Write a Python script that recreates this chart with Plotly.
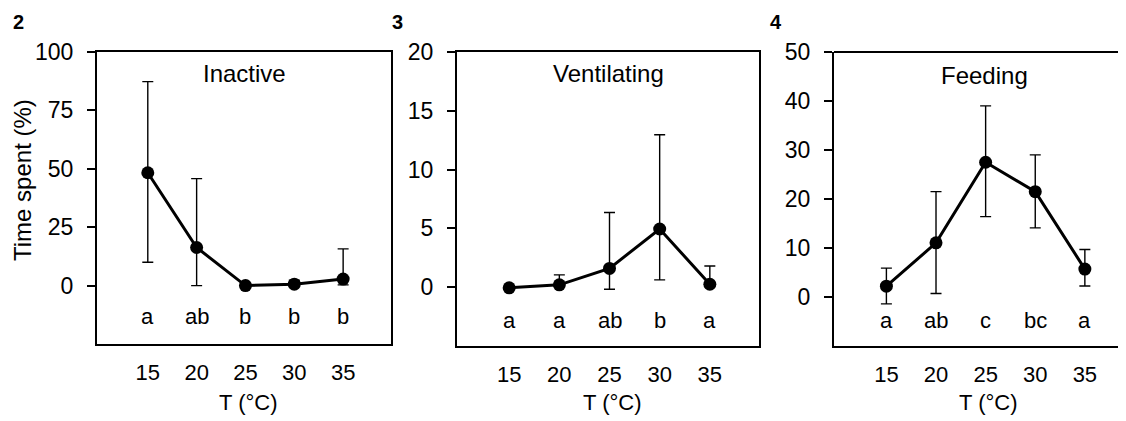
import plotly.graph_objects as go

temps = [15, 20, 25, 30, 35]
tick_labels = ["15", "20", "25", "30", "35"]

# Panel 2: Inactive
inactive_mean = [48.3, 16.3, 0.0, 0.6, 2.8]
inactive_hi = [87.3, 45.8, 0.2, 2.3, 15.7]
inactive_lo = [10.0, 0.0, -0.2, -0.3, 0.3]
inactive_letters = ["a", "ab", "b", "b", "b"]

# Panel 3: Ventilating
vent_mean = [-0.05, 0.2, 1.6, 4.95, 0.25]
vent_hi = [0.0, 1.05, 6.35, 12.96, 1.8]
vent_lo = [-0.1, 0.1, -0.17, 0.62, 0.2]
vent_letters = ["a", "a", "ab", "b", "a"]

# Panel 4: Feeding
feed_mean = [2.2, 11.05, 27.5, 21.5, 5.7]
feed_hi = [5.9, 21.5, 39.0, 29.0, 9.7]
feed_lo = [-1.4, 0.7, 16.4, 14.1, 2.25]
feed_letters = ["a", "ab", "c", "bc", "a"]

W, H = 1126, 421
OFF = 8  # page body margin in the viewer
FONT = "Liberation Sans, Arial, sans-serif"


def px(x):
    return (x - OFF) / W


def py(y):
    return 1 - (y - OFF) / H


panels = [
    dict(name="Inactive", mean=inactive_mean, hi=inactive_hi, lo=inactive_lo, letters=inactive_letters,
         xdom=(97, 391), ytop=52, ybot=344, yrange=[-25, 100], yticks=[0, 25, 50, 75, 100],
         xrange=[9.8, 39.9], letter_y=-13.4, label="2", label_x=18, mirror=True, title_y=74),
    dict(name="Ventilating", mean=vent_mean, hi=vent_hi, lo=vent_lo, letters=vent_letters,
         xdom=(457, 759), ytop=52, ybot=346, yrange=[-5, 20], yticks=[0, 5, 10, 15, 20],
         xrange=[9.8, 39.9], letter_y=-2.8, label="3", label_x=397, mirror=True, title_y=74),
    dict(name="Feeding", mean=feed_mean, hi=feed_hi, lo=feed_lo, letters=feed_letters,
         xdom=(834, 1132), ytop=52, ybot=346, yrange=[-10, 50], yticks=[0, 10, 20, 30, 40, 50],
         xrange=[9.72, 39.75], letter_y=-4.8, label="4", label_x=776, mirror=False, title_y=76),
]

fig = go.Figure()
annotations = []
layout = {}

for i, p in enumerate(panels):
    k = "" if i == 0 else str(i + 1)
    xa, ya = "x" + k, "y" + k
    plus = [h - m for h, m in zip(p["hi"], p["mean"])]
    minus = [m - l for m, l in zip(p["mean"], p["lo"])]
    fig.add_trace(go.Scatter(
        x=temps, y=p["mean"], xaxis=xa, yaxis=ya, mode="lines+markers",
        line=dict(color="black", width=3),
        marker=dict(color="black", size=13),
        error_y=dict(type="data", symmetric=False, array=plus, arrayminus=minus,
                     color="black", thickness=1.4, width=5.5),
        showlegend=False, cliponaxis=False,
    ))
    x0 = px(p["xdom"][0])
    x1 = min(px(p["xdom"][1]), 1.0)
    y0 = py(p["ybot"])
    y1 = py(p["ytop"])
    layout["xaxis" + k] = dict(
        domain=[x0, x1], range=p["xrange"], anchor=ya, automargin=False,
        showline=True, linecolor="black", linewidth=2, mirror=p["mirror"],
        showgrid=False, zeroline=False, ticks="",
        tickvals=temps, ticktext=tick_labels, ticklabelstandoff=8,
        tickfont=dict(family=FONT, size=22, color="black"),
    )
    layout["yaxis" + k] = dict(
        domain=[y0, y1], range=p["yrange"], anchor=xa, automargin=False,
        showline=True, linecolor="black", linewidth=2, mirror=p["mirror"],
        showgrid=False, zeroline=False, ticks="outside", ticklen=8, tickwidth=2, tickcolor="black",
        tickvals=p["yticks"], ticklabelstandoff=9,
        tickfont=dict(family=FONT, size=23, color="black"),
    )
    if not p["mirror"]:
        fig.add_shape(type="line", xref="x" + k + " domain", yref="y" + k + " domain",
                      x0=0, x1=1, y0=1, y1=1, line=dict(color="black", width=2))
    # panel title
    annotations.append(dict(text=p["name"], x=24.9, xref=xa,
                            y=py(p["title_y"]), yref="paper", xanchor="center", yanchor="middle",
                            showarrow=False, font=dict(family=FONT, size=24, color="black")))
    # significance letters
    for t, lt in zip(temps, p["letters"]):
        annotations.append(dict(text=lt, x=t, y=p["letter_y"], xref=xa, yref=ya, showarrow=False,
                                xanchor="center", yanchor="middle",
                                font=dict(family=FONT, size=22, color="black")))
    # x title
    annotations.append(dict(text="T (°C)", x=25.3, xref=xa, y=py(402), yref="paper",
                            xanchor="center", yanchor="middle",
                            showarrow=False, font=dict(family=FONT, size=22, color="black")))
    # panel label
    annotations.append(dict(text="<b>" + p["label"] + "</b>", x=px(p["label_x"]), xref="paper",
                            y=py(22), yref="paper", showarrow=False, xanchor="center", yanchor="middle",
                            font=dict(family=FONT, size=20, color="black")))

annotations.append(dict(text="Time spent (%)", textangle=-90, x=px(22), y=py(180),
                        xref="paper", yref="paper", showarrow=False, xanchor="center", yanchor="middle",
                        font=dict(family=FONT, size=24, color="black")))

fig.update_layout(
    template="none",
    width=W, height=H, margin=dict(l=0, r=0, t=0, b=0, autoexpand=False),
    paper_bgcolor="white", plot_bgcolor="white",
    annotations=annotations, **layout,
)

fig.write_html("out.html")
